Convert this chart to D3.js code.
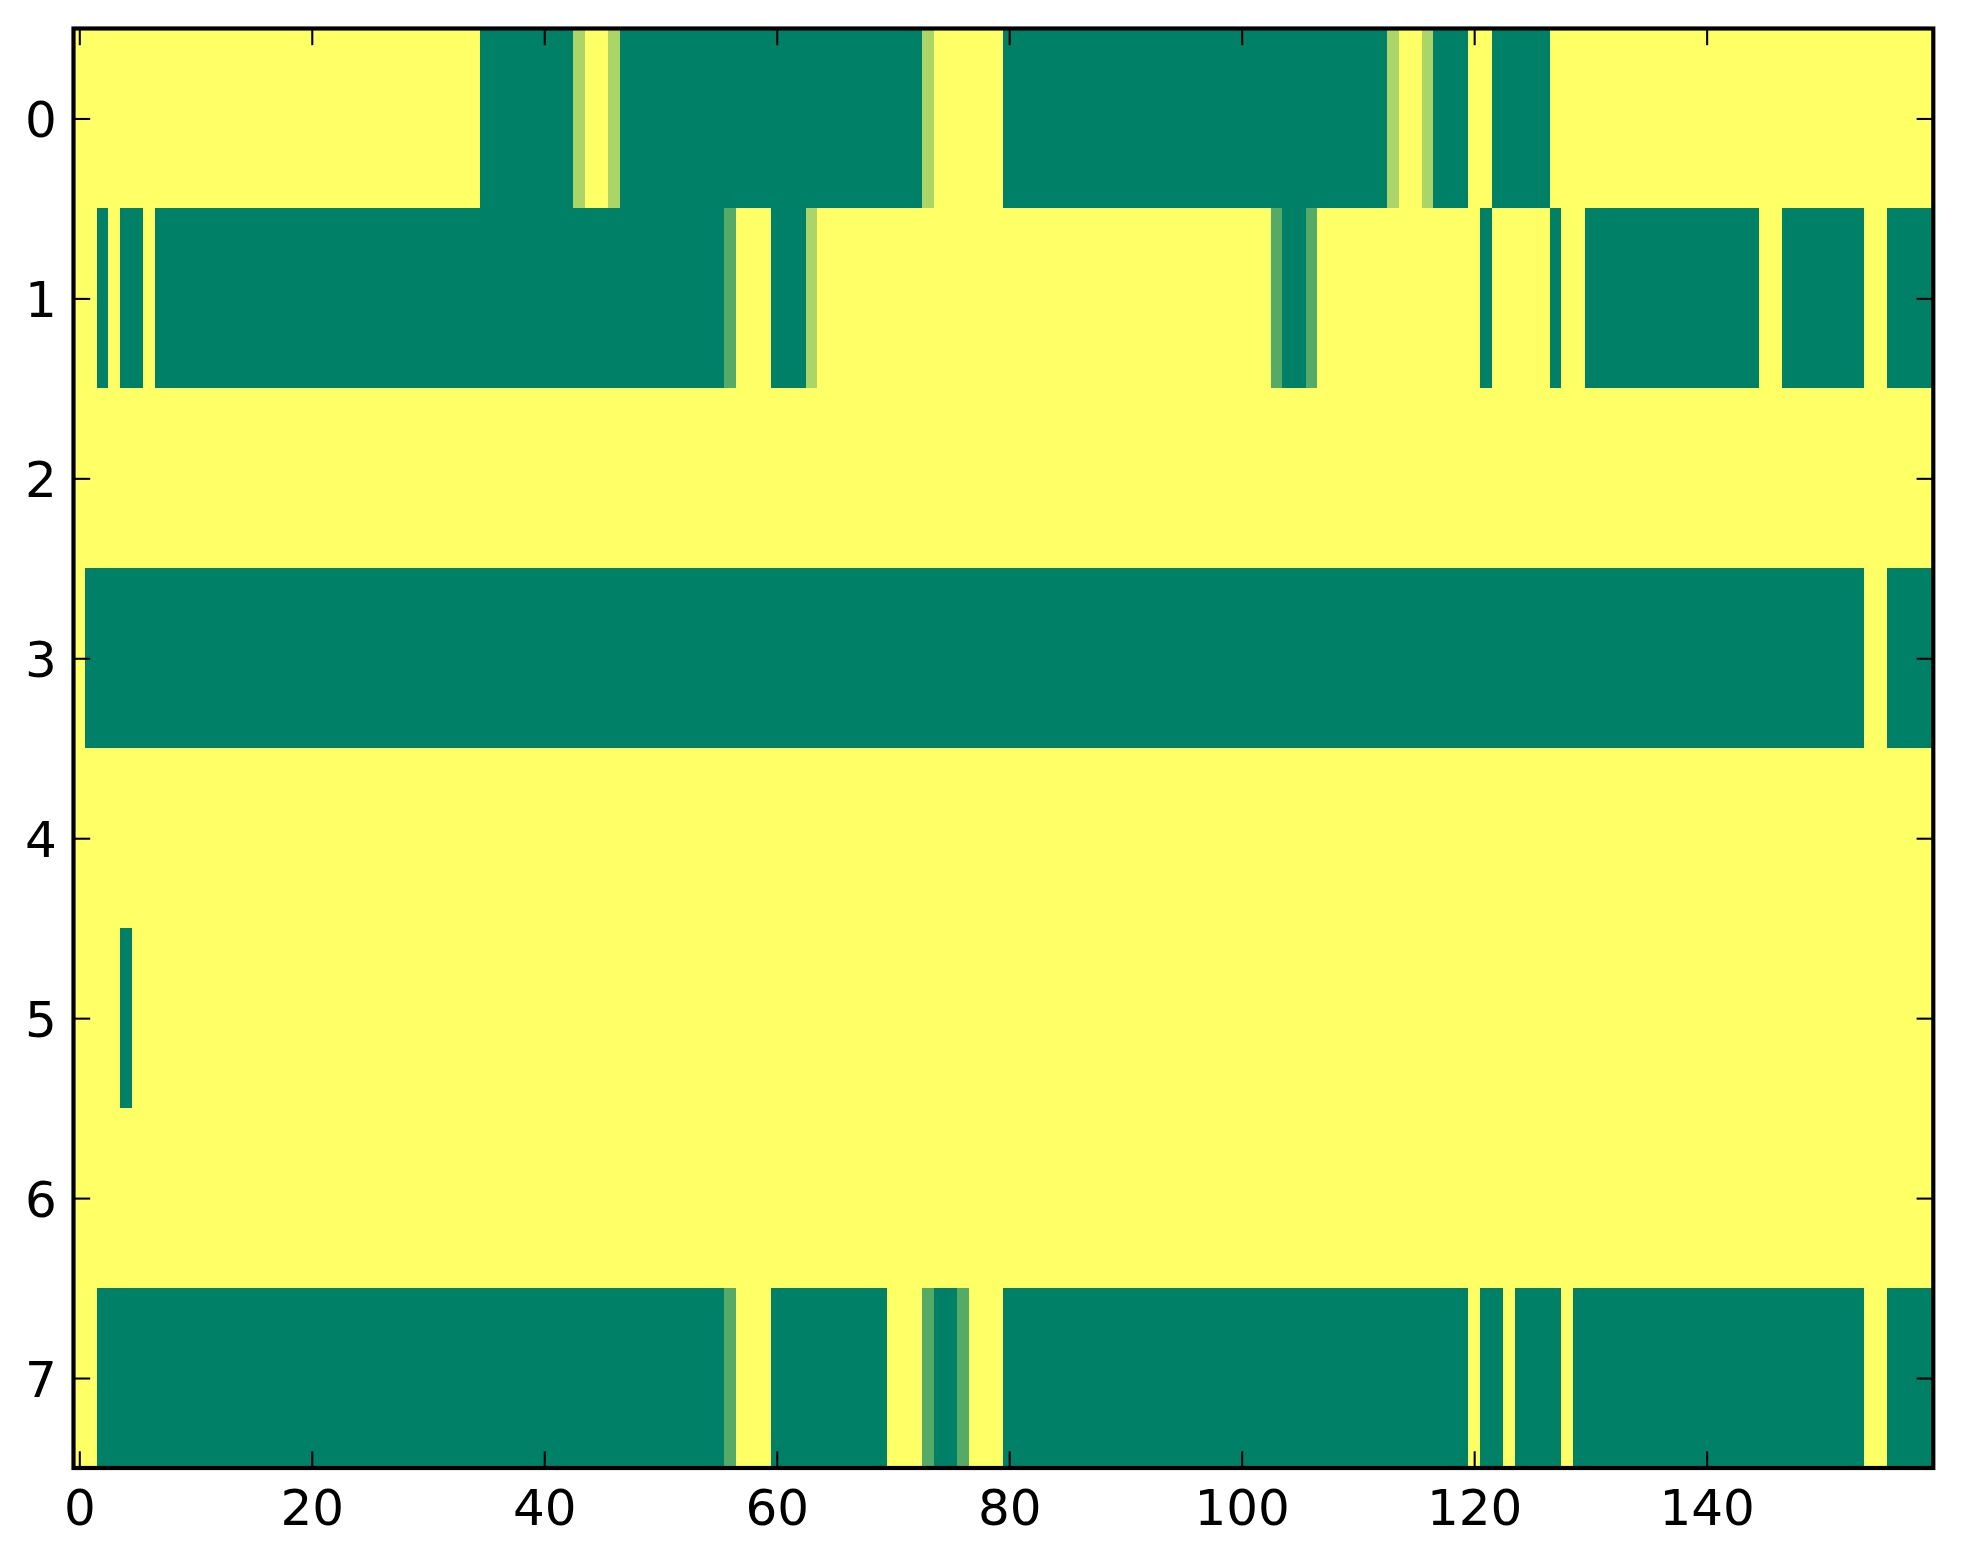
<!DOCTYPE html>
<html>
<head>
<meta charset="utf-8">
<script src="https://cdn.jsdelivr.net/npm/d3@7"></script>
<style>
  html, body { margin: 0; padding: 0; background: #ffffff; }
  svg { display: block; }
</style>
</head>
<body>
<svg id="chart" width="1963" height="1564"></svg>
<script>
// ---- data (0 = dark green, 1 = yellow) ----
const xTicks = [0, 20, 40, 60, 80, 100, 120, 140];
const yTicks = [0, 1, 2, 3, 4, 5, 6, 7];

const row0 = [
1,1,1,1,1,1,1,1,1,1,1,1,1,1,1,1,1,1,1,1,
1,1,1,1,1,1,1,1,1,1,1,1,1,1,1,0,0,0,0,0,
0,0,0,.67,1,1,.67,0,0,0,0,0,0,0,0,0,0,0,0,0,
0,0,0,0,0,0,0,0,0,0,0,0,0,.67,1,1,1,1,1,1,
0,0,0,0,0,0,0,0,0,0,0,0,0,0,0,0,0,0,0,0,
0,0,0,0,0,0,0,0,0,0,0,0,0,.67,1,1,.67,0,0,0,
1,1,0,0,0,0,0,1,1,1,1,1,1,1,1,1,1,1,1,1,
1,1,1,1,1,1,1,1,1,1,1,1,1,1,1,1,1,1,1,1];

const row1 = [
1,1,0,1,0,0,1,0,0,0,0,0,0,0,0,0,0,0,0,0,
0,0,0,0,0,0,0,0,0,0,0,0,0,0,0,0,0,0,0,0,
0,0,0,0,0,0,0,0,0,0,0,0,0,0,0,0,.33,1,1,1,
0,0,0,.67,1,1,1,1,1,1,1,1,1,1,1,1,1,1,1,1,
1,1,1,1,1,1,1,1,1,1,1,1,1,1,1,1,1,1,1,1,
1,1,1,.33,0,0,.33,1,1,1,1,1,1,1,1,1,1,1,1,1,
1,0,1,1,1,1,1,0,1,1,0,0,0,0,0,0,0,0,0,0,
0,0,0,0,0,1,1,0,0,0,0,0,0,0,1,1,0,0,0,0];

const row2 = [
1,1,1,1,1,1,1,1,1,1,1,1,1,1,1,1,1,1,1,1,
1,1,1,1,1,1,1,1,1,1,1,1,1,1,1,1,1,1,1,1,
1,1,1,1,1,1,1,1,1,1,1,1,1,1,1,1,1,1,1,1,
1,1,1,1,1,1,1,1,1,1,1,1,1,1,1,1,1,1,1,1,
1,1,1,1,1,1,1,1,1,1,1,1,1,1,1,1,1,1,1,1,
1,1,1,1,1,1,1,1,1,1,1,1,1,1,1,1,1,1,1,1,
1,1,1,1,1,1,1,1,1,1,1,1,1,1,1,1,1,1,1,1,
1,1,1,1,1,1,1,1,1,1,1,1,1,1,1,1,1,1,1,1];

const row3 = [
1,0,0,0,0,0,0,0,0,0,0,0,0,0,0,0,0,0,0,0,
0,0,0,0,0,0,0,0,0,0,0,0,0,0,0,0,0,0,0,0,
0,0,0,0,0,0,0,0,0,0,0,0,0,0,0,0,0,0,0,0,
0,0,0,0,0,0,0,0,0,0,0,0,0,0,0,0,0,0,0,0,
0,0,0,0,0,0,0,0,0,0,0,0,0,0,0,0,0,0,0,0,
0,0,0,0,0,0,0,0,0,0,0,0,0,0,0,0,0,0,0,0,
0,0,0,0,0,0,0,0,0,0,0,0,0,0,0,0,0,0,0,0,
0,0,0,0,0,0,0,0,0,0,0,0,0,0,1,1,0,0,0,0];

const row4 = [
1,1,1,1,1,1,1,1,1,1,1,1,1,1,1,1,1,1,1,1,
1,1,1,1,1,1,1,1,1,1,1,1,1,1,1,1,1,1,1,1,
1,1,1,1,1,1,1,1,1,1,1,1,1,1,1,1,1,1,1,1,
1,1,1,1,1,1,1,1,1,1,1,1,1,1,1,1,1,1,1,1,
1,1,1,1,1,1,1,1,1,1,1,1,1,1,1,1,1,1,1,1,
1,1,1,1,1,1,1,1,1,1,1,1,1,1,1,1,1,1,1,1,
1,1,1,1,1,1,1,1,1,1,1,1,1,1,1,1,1,1,1,1,
1,1,1,1,1,1,1,1,1,1,1,1,1,1,1,1,1,1,1,1];

const row5 = [
1,1,1,1,0,1,1,1,1,1,1,1,1,1,1,1,1,1,1,1,
1,1,1,1,1,1,1,1,1,1,1,1,1,1,1,1,1,1,1,1,
1,1,1,1,1,1,1,1,1,1,1,1,1,1,1,1,1,1,1,1,
1,1,1,1,1,1,1,1,1,1,1,1,1,1,1,1,1,1,1,1,
1,1,1,1,1,1,1,1,1,1,1,1,1,1,1,1,1,1,1,1,
1,1,1,1,1,1,1,1,1,1,1,1,1,1,1,1,1,1,1,1,
1,1,1,1,1,1,1,1,1,1,1,1,1,1,1,1,1,1,1,1,
1,1,1,1,1,1,1,1,1,1,1,1,1,1,1,1,1,1,1,1];

const row6 = [
1,1,1,1,1,1,1,1,1,1,1,1,1,1,1,1,1,1,1,1,
1,1,1,1,1,1,1,1,1,1,1,1,1,1,1,1,1,1,1,1,
1,1,1,1,1,1,1,1,1,1,1,1,1,1,1,1,1,1,1,1,
1,1,1,1,1,1,1,1,1,1,1,1,1,1,1,1,1,1,1,1,
1,1,1,1,1,1,1,1,1,1,1,1,1,1,1,1,1,1,1,1,
1,1,1,1,1,1,1,1,1,1,1,1,1,1,1,1,1,1,1,1,
1,1,1,1,1,1,1,1,1,1,1,1,1,1,1,1,1,1,1,1,
1,1,1,1,1,1,1,1,1,1,1,1,1,1,1,1,1,1,1,1];

const row7 = [
1,1,0,0,0,0,0,0,0,0,0,0,0,0,0,0,0,0,0,0,
0,0,0,0,0,0,0,0,0,0,0,0,0,0,0,0,0,0,0,0,
0,0,0,0,0,0,0,0,0,0,0,0,0,0,0,0,.33,1,1,1,
0,0,0,0,0,0,0,0,0,0,1,1,1,.33,0,0,.33,1,1,1,
0,0,0,0,0,0,0,0,0,0,0,0,0,0,0,0,0,0,0,0,
0,0,0,0,0,0,0,0,0,0,0,0,0,0,0,0,0,0,0,0,
1,0,0,1,0,0,0,0,1,0,0,0,0,0,0,0,0,0,0,0,
0,0,0,0,0,0,0,0,0,0,0,0,0,0,1,1,0,0,0,0];

const rows = [row0, row1, row2, row3, row4, row5, row6, row7];

// ---- layout ----
const plot = { left: 73.5, right: 1933.3, top: 28.5, bottom: 1468 };
const fontSize = 50;
const tickLen = 16.7;
const tickW = 2.08;
const frameW = 4.17;

const nCols = row0.length;
const nRows = rows.length;

const x = d3.scaleLinear().domain([-0.5, nCols - 0.5]).range([plot.left, plot.right]);
const y = d3.scaleLinear().domain([-0.5, nRows - 0.5]).range([plot.top, plot.bottom]);
// "summer" colormap: (0,0.5,0.4) -> (1,1,0.4)
const color = d3.scaleLinear().domain([0, 1]).range(["#008066", "#ffff66"]).interpolate(d3.interpolateRgb);

const svg = d3.select("#chart");

// cells
const cells = [];
rows.forEach((r, ri) => r.forEach((v, ci) => cells.push({ r: ri, c: ci, v })));

svg.append("g")
  .attr("shape-rendering", "crispEdges")
  .selectAll("rect")
  .data(cells)
  .join("rect")
  .attr("x", d => x(d.c - 0.5))
  .attr("y", d => y(d.r - 0.5))
  .attr("width", d => x(d.c + 0.5) - x(d.c - 0.5) + 0.6)
  .attr("height", d => y(d.r + 0.5) - y(d.r - 0.5) + 0.6)
  .attr("fill", d => color(d.v));

// axes
function styleAxis(g, hideLabels) {
  g.select(".domain").remove();
  g.selectAll(".tick line").attr("stroke", "#000").attr("stroke-width", tickW);
  g.selectAll(".tick text")
    .attr("fill", "#000")
    .style("font-family", "'DejaVu Sans', sans-serif")
    .style("font-size", fontSize + "px");
  if (hideLabels) g.selectAll(".tick text").remove();
}

const xAxisBottom = svg.append("g")
  .attr("transform", `translate(0,${plot.bottom})`)
  .call(d3.axisBottom(x).tickValues(xTicks).tickSizeInner(-tickLen).tickSizeOuter(0).tickPadding(tickLen).tickFormat(d3.format("d")));
styleAxis(xAxisBottom, false);
xAxisBottom.selectAll(".tick text").attr("y", 57).attr("dy", "0");

const xAxisTop = svg.append("g")
  .attr("transform", `translate(0,${plot.top})`)
  .call(d3.axisTop(x).tickValues(xTicks).tickSizeInner(-tickLen).tickSizeOuter(0));
styleAxis(xAxisTop, true);

const yAxisLeft = svg.append("g")
  .attr("transform", `translate(${plot.left},0)`)
  .call(d3.axisLeft(y).tickValues(yTicks).tickSizeInner(-tickLen).tickSizeOuter(0).tickPadding(tickLen).tickFormat(d3.format("d")));
styleAxis(yAxisLeft, false);
yAxisLeft.selectAll(".tick text").attr("x", -tickLen).attr("dy", "0.36em");

const yAxisRight = svg.append("g")
  .attr("transform", `translate(${plot.right},0)`)
  .call(d3.axisRight(y).tickValues(yTicks).tickSizeInner(-tickLen).tickSizeOuter(0));
styleAxis(yAxisRight, true);

// frame
svg.append("rect")
  .attr("x", plot.left)
  .attr("y", plot.top)
  .attr("width", plot.right - plot.left)
  .attr("height", plot.bottom - plot.top)
  .attr("fill", "none")
  .attr("stroke", "#000")
  .attr("stroke-width", frameW);
</script>
</body>
</html>
